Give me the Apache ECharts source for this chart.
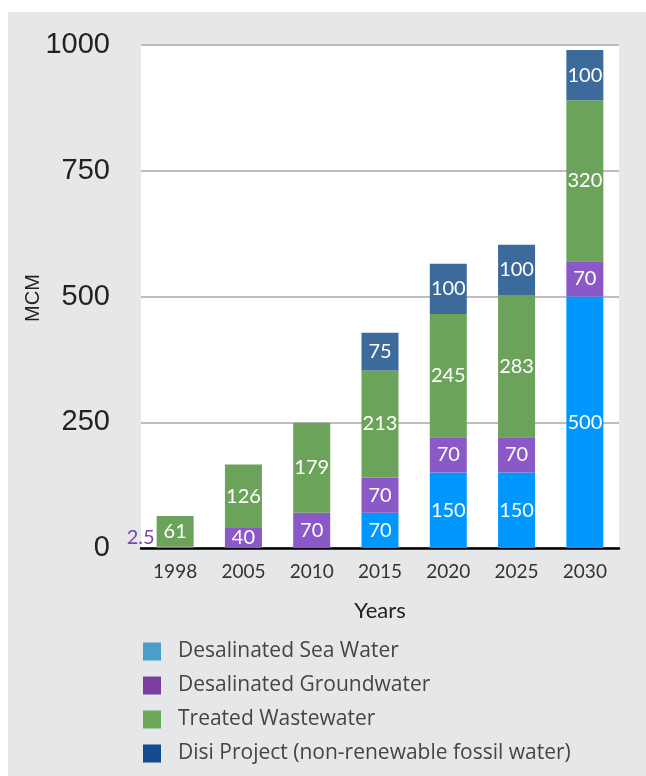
<!DOCTYPE html>
<html>
<head>
<meta charset="utf-8">
<script src="https://cdn.jsdelivr.net/npm/echarts@6/dist/echarts.min.js"></script>
<style>
  html, body { margin: 0; padding: 0; background: #fff; }
  #chart { width: 646px; height: 776px; }
</style>
</head>
<body>
<div id="chart"></div>
<script>
  // chart data
  var years = ['1998', '2005', '2010', '2015', '2020', '2025', '2030'];
  var seaWater = [null, null, null, 70, 150, 150, 500];
  var groundwater = [2.5, 40, 70, 70, 70, 70, 70];
  var wastewater = [61, 126, 179, 213, 245, 283, 320];
  var disi = [null, null, null, 75, 100, 100, 100];
  var yTicks = [0, 250, 500, 750, 1000];

  var names = ['Desalinated Sea Water', 'Desalinated Groundwater', 'Treated Wastewater',
    'Disi Project (non-renewable fossil water)'];
  var barColors = ['#0098fe', '#8a58c7', '#6ba35a', '#3b6a9b'];
  var legendColors = ['#4a9ec8', '#7a3f9e', '#6aa85a', '#134b8e'];

  var labelFont = 'Lato, "Open Sans", sans-serif';

  function makeSeries(i, values) {
    var data = values.map(function (v, k) {
      // the tiny 1998 groundwater value is labelled outside, in purple
      if (i == 1 && k == 0) {
        return {
          value: v,
          label: {position: 'left', color: '#7a48a8', distance: 2, offset: [0, -10]}
        };
      }
      return v;
    });
    return {
      name: names[i],
      type: 'bar',
      stack: 'total',
      barWidth: 37,
      itemStyle: {color: barColors[i]},
      label: {
        show: true,
        position: 'inside',
        color: '#fff',
        fontSize: 20,
        fontFamily: labelFont
      },
      data: data
    };
  }

  var chart = echarts.init(document.getElementById('chart'));
  chart.setOption({
    animation: false,
    backgroundColor: '#fff',
    graphic: [{
      type: 'rect',
      z: -10,
      shape: {x: 8, y: 12, width: 646, height: 776},
      style: {fill: '#e6e7e9'}
    }, {
      // y axis title, placed by hand because v6 pushes the axis name past the labels
      type: 'text',
      x: 33,
      y: 298,
      rotation: Math.PI / 2,
      style: {
        text: 'MCM',
        fontSize: 20,
        fill: '#222',
        fontFamily: 'Liberation Sans, Arial, sans-serif',
        align: 'center',
        verticalAlign: 'middle'
      }
    }],
    grid: {
      left: 141, right: 27, top: 45, bottom: 228,
      show: true, backgroundColor: '#fff', borderWidth: 0
    },
    legend: {
      orient: 'vertical',
      left: 138,
      top: 636,
      itemWidth: 18,
      itemHeight: 18,
      itemGap: 13,
      icon: 'rect',
      selectedMode: false,
      textStyle: {
        fontSize: 21,
        color: '#454545',
        fontFamily: '"Open Sans", sans-serif',
        padding: [0, 0, 0, 12]
      },
      data: names.map(function (n, i) {
        return {name: n, itemStyle: {color: legendColors[i]}};
      })
    },
    xAxis: {
      type: 'category',
      data: years,
      name: 'Years',
      nameLocation: 'middle',
      nameGap: 52,
      nameTextStyle: {fontSize: 22, color: '#222', fontFamily: labelFont},
      axisLine: {lineStyle: {color: '#000', width: 2.5}},
      axisTick: {show: false},
      axisLabel: {fontSize: 19, color: '#333', margin: 14, fontFamily: labelFont}
    },
    yAxis: {
      type: 'value',
      min: yTicks[0],
      max: yTicks[yTicks.length - 1],
      interval: 250,
      axisLine: {show: false},
      axisTick: {show: false},
      axisLabel: {
        fontSize: 29, color: '#222', margin: 31,
        fontFamily: 'Liberation Sans, Arial, sans-serif',
        formatter: function (v) { return String(v); }
      },
      splitLine: {lineStyle: {color: '#bdbdbd', width: 2}}
    },
    series: [
      makeSeries(0, seaWater),
      makeSeries(1, groundwater),
      makeSeries(2, wastewater),
      makeSeries(3, disi)
    ]
  });
</script>
</body>
</html>
